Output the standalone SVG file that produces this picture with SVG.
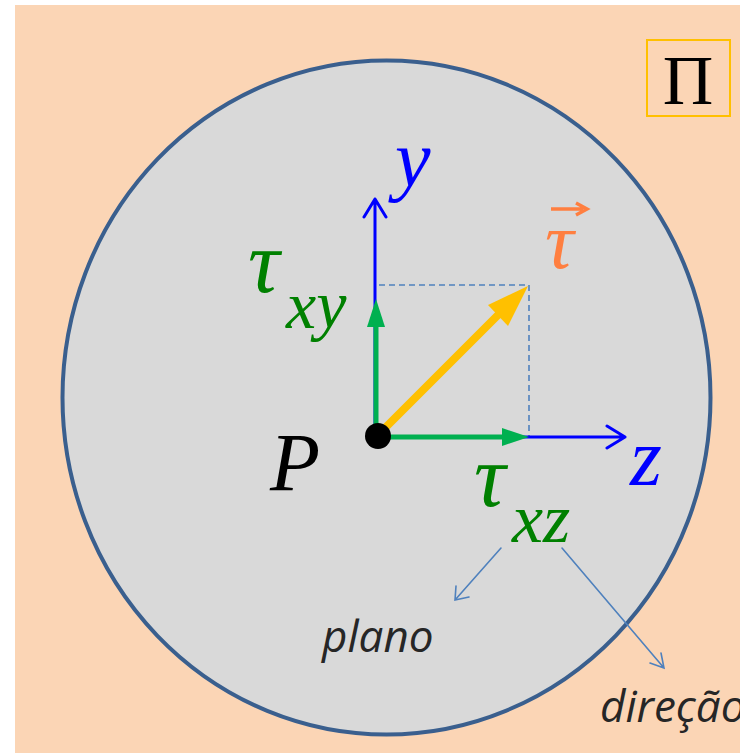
<svg xmlns="http://www.w3.org/2000/svg" width="740" height="753" viewBox="0 0 740 753">
<defs>
<style>
.bg{fill:#FBD5B5}
.disk{fill:#D9D9D9;stroke:#3A5F8E;stroke-width:4}
.axis{stroke:#0000FF;stroke-width:3;fill:none;stroke-linecap:round;stroke-linejoin:round}
.comp{stroke:#00B050;stroke-width:5;fill:none}
.head{fill:#00B050}
.dash{stroke:#4F81BD;stroke-width:1.6;fill:none;stroke-dasharray:6 4}
.thin{stroke:#4F81BD;stroke-width:1.6;fill:none;stroke-linecap:round}
.lbl{font-family:"Liberation Serif","DejaVu Serif",serif;font-style:italic}
.note{font-family:"Open Sans","DejaVu Sans",sans-serif;font-style:italic;fill:#262626;font-size:44px}
</style>
</defs>
<rect class="bg" x="15" y="5" width="725" height="748"/>
<g id="plane">
<ellipse class="disk" cx="386.5" cy="397.5" rx="324" ry="337"/>
</g>
<g id="pi-label">
<rect x="647" y="40" width="83" height="76" fill="none" stroke="#FFC000" stroke-width="2"/>
<text x="688" y="104" text-anchor="middle" font-family="Liberation Serif,serif" font-size="70" fill="#000">Π</text>
</g>
<g id="connectors">
<path class="dash" d="M379 285 H529 V437"/>
<path class="axis" d="M375 437 V199 M364 217 L375 199 L386 217"/>
<path class="axis" d="M378 437 H625 M607 426 L625 437 L607 448"/>
<line class="comp" x1="376" y1="437" x2="505" y2="437"/>
<polygon class="head" points="529,437 502,428 502,446"/>
<line class="comp" x1="376" y1="437" x2="376" y2="324"/>
<polygon class="head" points="376,299 367,327 385,327"/>
<line x1="378" y1="435" x2="505" y2="308" stroke="#FFC000" stroke-width="8"/>
<polygon points="528,286 488,305 508,326" fill="#FFC000"/>
<path class="thin" d="M501 548 L455 600 M456 586 L455 600 L469 597"/>
<path class="thin" d="M562 548 L664 668 M661 653 L664 668 L650 663"/>
</g>
<g id="P">
<circle cx="378" cy="436" r="13" fill="#000"/>
<text class="lbl" x="270" y="490" font-size="82" fill="#000">P</text>
</g>
<g id="y-label"><text class="lbl" x="395" y="186" font-size="80" fill="#0000FF">y</text></g>
<g id="z-label"><text class="lbl" x="630" y="485" font-size="82" fill="#0000FF">z</text></g>
<g id="tau-vec">
<text class="lbl" x="545" y="268" font-size="80" fill="#FF7F40">τ</text>
<path d="M551 209 H583 M576 203 L587 209 L576 215" stroke="#FF7F40" stroke-width="3.5" fill="none"/>
</g>
<g id="tau-xy">
<text class="lbl" x="248" y="292" font-size="88" fill="#008000">τ</text>
<text class="lbl" x="286" y="328" font-size="68" fill="#008000">xy</text>
</g>
<g id="tau-xz">
<text class="lbl" x="474" y="506" font-size="88" fill="#008000">τ</text>
<text class="lbl" x="512" y="542" font-size="70" fill="#008000">xz</text>
</g>
<g id="plano"><text class="note" x="322" y="652">plano</text></g>
<g id="direcao"><text class="note" x="600" y="722">direção</text></g>
</svg>
